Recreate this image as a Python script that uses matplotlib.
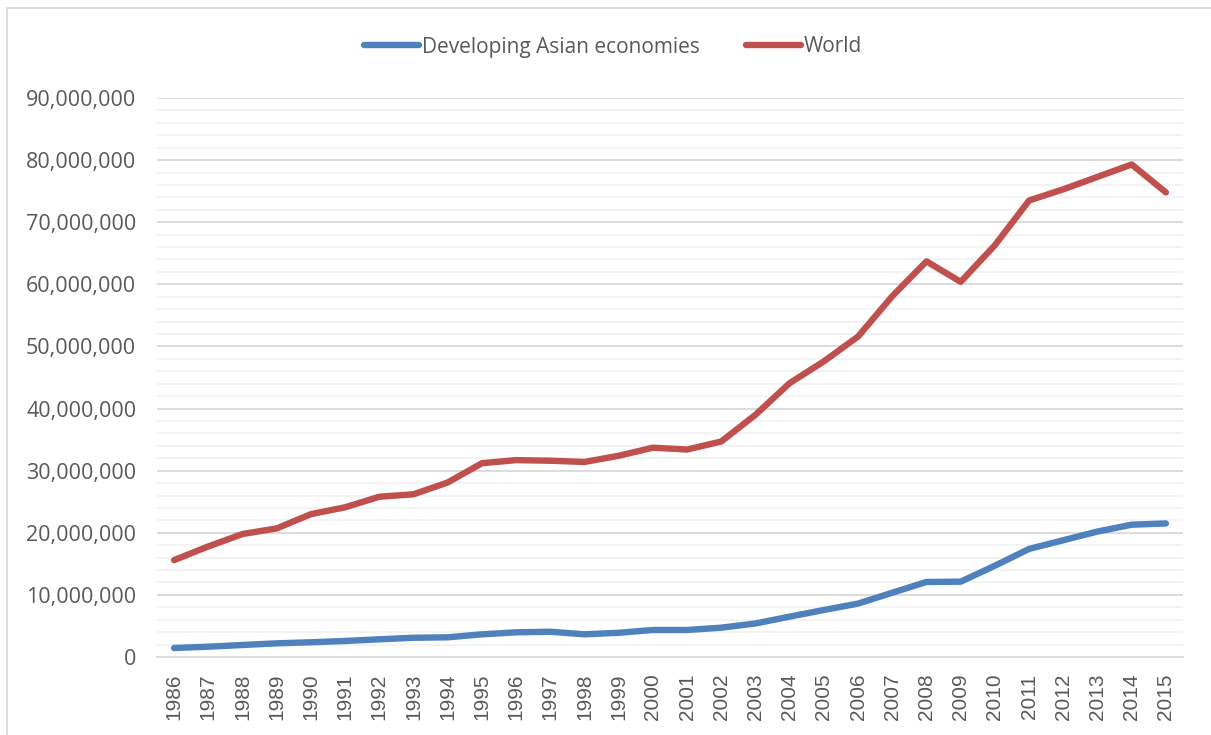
import matplotlib.pyplot as plt
from matplotlib.ticker import MultipleLocator, FuncFormatter
from matplotlib.patches import Rectangle

years = list(range(1986, 2016))

asia = [1.45, 1.66, 1.93, 2.20, 2.37, 2.58, 2.85, 3.10, 3.17, 3.65,
        3.97, 4.07, 3.65, 3.90, 4.35, 4.35, 4.72, 5.40, 6.50, 7.57,
        8.60, 10.35, 12.08, 12.13, 14.70, 17.40, 18.80, 20.20, 21.30, 21.50]

world = [15.6, 17.8, 19.8, 20.7, 23.0, 24.1, 25.8, 26.2, 28.1, 31.2,
         31.7, 31.6, 31.4, 32.4, 33.7, 33.4, 34.7, 39.0, 44.1, 47.6,
         51.6, 58.1, 63.7, 60.4, 66.3, 73.5, 75.3, 77.3, 79.3, 74.8]

asia = [v * 1e6 for v in asia]
world = [v * 1e6 for v in world]

BLUE = '#4F81BD'
RED = '#C0504D'
TXT = '#595959'

fig = plt.figure(figsize=(12.11, 7.35), dpi=100)
ax = fig.add_axes([157 / 1211, 1 - 657 / 735, (1183 - 157) / 1211, (657 - 98) / 735])

# outer chart frame (only left and top edges fall inside the image)
fig.patches.append(Rectangle((7 / 1211, -0.1), 1.2, 1 - 8 / 735 + 0.1,
                             transform=fig.transFigure, fill=False,
                             edgecolor='#D9D9D9', lw=1.3))

x = list(range(len(years)))
l1, = ax.plot(x, asia, color=BLUE, lw=4.6, solid_capstyle='round', solid_joinstyle='round', zorder=3)
l2, = ax.plot(x, world, color=RED, lw=4.6, solid_capstyle='round', solid_joinstyle='round', zorder=3)

ax.set_xlim(-0.5, len(years) - 0.5)
ax.set_ylim(0, 90e6)
ax.yaxis.set_major_locator(MultipleLocator(10e6))
ax.yaxis.set_minor_locator(MultipleLocator(2e6))
ax.yaxis.set_major_formatter(FuncFormatter(lambda v, p: f'{int(v):,}'))

ax.grid(which='major', axis='y', color='#D9D9D9', lw=1.3, zorder=1)
ax.grid(which='minor', axis='y', color='#F2F2F2', lw=1.3, zorder=0)
ax.set_axisbelow(True)

for s in ['top', 'right', 'left']:
    ax.spines[s].set_visible(False)
ax.spines['bottom'].set_color('#D9D9D9')
ax.spines['bottom'].set_linewidth(1.3)

ax.set_xticks(x)
ax.set_xticklabels([str(y) for y in years], rotation=90, fontsize=15,
                   family='Liberation Sans', color=TXT)
ax.tick_params(axis='x', length=0, pad=12)
ax.tick_params(axis='y', which='both', length=0, pad=15, labelsize=15.5, labelcolor=TXT)
for t in ax.get_yticklabels():
    t.set_family('Open Sans')

leg = fig.legend([l1, l2], ['Developing Asian economies', 'World'],
                 loc='center', bbox_to_anchor=(613 / 1211, 1 - 47 / 735), ncol=2,
                 frameon=False, handlelength=2.65, handletextpad=0.15, columnspacing=2.2,
                 prop={'family': 'Open Sans', 'size': 15})
for t in leg.get_texts():
    t.set_color(TXT)

fig.savefig('out.png', dpi=100)
